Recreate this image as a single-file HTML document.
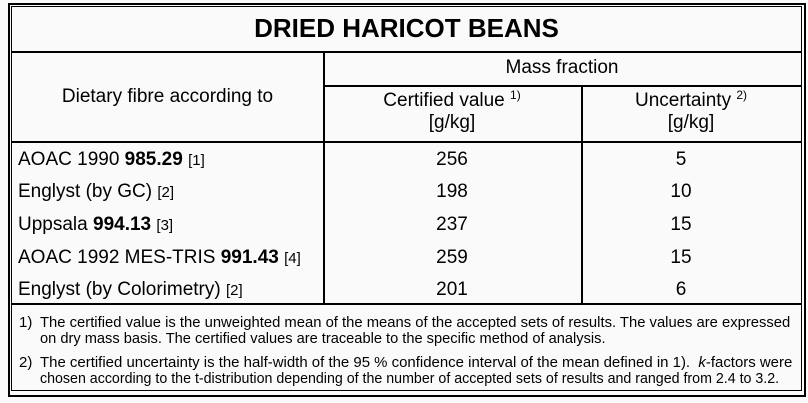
<!DOCTYPE html>
<html><head><style>
body{margin:0;width:808px;height:403px;background:#fafafa;position:relative;overflow:hidden;font-family:"Liberation Sans",Arial,sans-serif;color:#000}
.a{position:absolute}
.h{position:absolute;height:1.5px;background:#000}
.v{position:absolute;width:1.5px;background:#000}
.t{position:absolute;font-size:19px;line-height:22px;white-space:nowrap}
.c{text-align:center}
sup{font-size:12px;vertical-align:7px;line-height:0}
.r{font-size:15px}
.f{position:absolute;font-size:15px;line-height:16px;white-space:nowrap;transform-origin:0 0}
</style></head><body>
<div class="a" style="left:8px;top:3px;width:798px;height:394px;border:2.5px solid #000;box-sizing:border-box"></div>
<div class="a" style="left:11px;top:6px;width:791px;height:385px;border:1px solid #000;box-sizing:border-box"></div>

<div class="t c" style="left:12px;width:789px;top:13px;font-size:26px;line-height:30px;font-weight:bold">DRIED HARICOT BEANS</div>

<div class="h" style="left:12px;width:789px;top:51px"></div>
<div class="h" style="left:323px;width:478px;top:85px"></div>
<div class="h" style="left:12px;width:789px;top:141px"></div>
<div class="h" style="left:12px;width:789px;top:303px"></div>
<div class="v" style="left:323px;top:51px;height:252px"></div>
<div class="v" style="left:581px;top:85px;height:218px"></div>

<div class="t c" style="left:12px;width:311px;top:86px">Dietary fibre according to</div>
<div class="t c" style="left:323px;width:478px;top:57px">Mass fraction</div>
<div class="t c" style="left:323px;width:258px;top:90px">Certified value <sup>1)</sup><br>[g/kg]</div>
<div class="t c" style="left:581px;width:220px;top:90px">Uncertainty <sup>2)</sup><br>[g/kg]</div>

<div class="t" style="left:18px;top:149px">AOAC 1990 <b>985.29</b> <span class="r">[1]</span></div>
<div class="t" style="left:18px;top:181px">Englyst (by GC) <span class="r">[2]</span></div>
<div class="t" style="left:18px;top:214px">Uppsala <b>994.13</b> <span class="r">[3]</span></div>
<div class="t" style="left:18px;top:247px">AOAC 1992 MES-TRIS <b>991.43</b> <span class="r">[4]</span></div>
<div class="t" style="left:18px;top:279px">Englyst (by Colorimetry) <span class="r">[2]</span></div>

<div class="t c" style="left:323px;width:258px;top:149px">256</div>
<div class="t c" style="left:323px;width:258px;top:181px">198</div>
<div class="t c" style="left:323px;width:258px;top:214px">237</div>
<div class="t c" style="left:323px;width:258px;top:247px">259</div>
<div class="t c" style="left:323px;width:258px;top:279px">201</div>
<div class="t c" style="left:581px;width:200px;top:149px">5</div>
<div class="t c" style="left:581px;width:200px;top:181px">10</div>
<div class="t c" style="left:581px;width:200px;top:214px">15</div>
<div class="t c" style="left:581px;width:200px;top:247px">15</div>
<div class="t c" style="left:581px;width:200px;top:279px">6</div>

<div class="f" style="left:19px;top:315px">1)</div>
<div class="f" style="left:40px;top:315px;transform:scaleX(0.987)">The certified value is the unweighted mean of the means of the accepted sets of results. The values are expressed</div>
<div class="f" style="left:40px;top:331px;transform:scaleX(0.975)">on dry mass basis. The certified values are traceable to the specific method of analysis.</div>
<div class="f" style="left:19px;top:355px">2)</div>
<div class="f" style="left:40px;top:355px;transform:scaleX(0.997)">The certified uncertainty is the half-width of the 95 % confidence interval of the mean defined in 1).&nbsp; <i>k</i>-factors were</div>
<div class="f" style="left:40px;top:371px;transform:scaleX(0.948)">chosen according to the t-distribution depending of the number of accepted sets of results and ranged from 2.4 to 3.2.</div>
</body></html>
